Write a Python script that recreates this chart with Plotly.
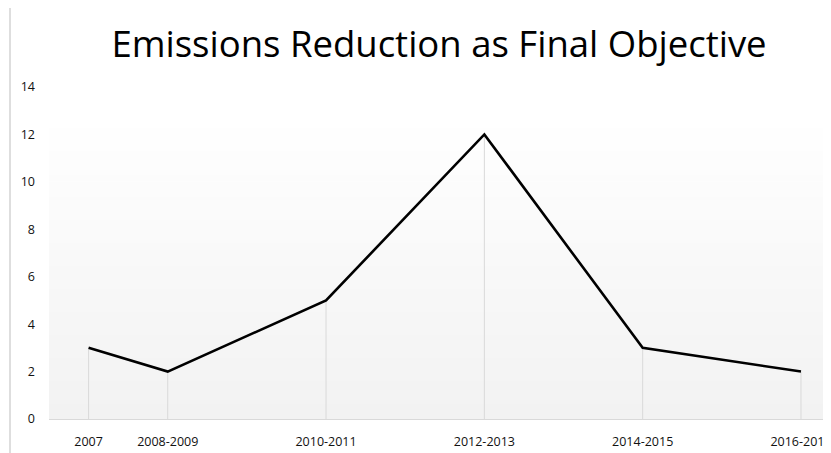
import plotly.graph_objects as go

# Data
period_labels = ["2007", "2008-2009", "2010-2011", "2012-2013", "2014-2015", "2016-2017"]
period_start = [2007, 2008, 2010, 2012, 2014, 2016]
counts = [3, 2, 5, 12, 3, 2]
y_ticks = [0, 2, 4, 6, 8, 10, 12, 14]

# page body adds an 8px offset, so the figure is sized/positioned accordingly
OFF = 8
W, H = 831 - OFF, 453 - OFF
ml, mr, mt, mb = 49 - OFF, 0, 87 - OFF, H - (419 - OFF)
plot_h = H - mt - mb
plot_w = W - ml - mr

fig = go.Figure()

# drop lines built from the data
dx, dy = [], []
for x, v in zip(period_start, counts):
    dx += [x, x, None]
    dy += [0, v, None]
fig.add_trace(go.Scatter(x=dx, y=dy, mode="lines",
                         line=dict(color="#d9d9d9", width=1),
                         hoverinfo="skip", showlegend=False))

fig.add_trace(go.Scatter(x=period_start, y=counts, mode="lines",
                         line=dict(color="#000000", width=2.6),
                         showlegend=False))

# background gradient (style only)
shapes = []
grad_top = (419 - 113) / plot_h
n = 40
for i in range(n):
    y0 = grad_top * i / n
    y1 = grad_top * (i + 1) / n
    t = i / (n - 1)
    c = int(round(242 + (255 - 242) * t))
    shapes.append(dict(type="rect", xref="paper", yref="paper",
                       x0=0, x1=1, y0=y0, y1=y1 + 0.002,
                       fillcolor=f"rgb({c},{c},{c})", line=dict(width=0),
                       layer="below"))
# left frame line
lx = (10 - OFF - ml) / plot_w
shapes.append(dict(type="line", xref="paper", yref="paper",
                   x0=lx, x1=lx,
                   y0=-mb / plot_h - 0.05, y1=(H - 5 + OFF - mb) / plot_h,
                   line=dict(color="#c8c8c8", width=1.2)))

fig.update_layout(
    width=W, height=H,
    margin=dict(l=ml, r=mr, t=mt, b=mb, autoexpand=False),
    paper_bgcolor="white", plot_bgcolor="rgba(0,0,0,0)",
    shapes=shapes,
    title=dict(text="Emissions Reduction as Final Objective",
               x=(439 - OFF) / W, xanchor="center",
               y=1 - (44 - OFF) / H, yanchor="middle",
               font=dict(family="Open Sans", size=36.5, color="#000000")),
    font=dict(family="Open Sans", size=12.5, color="#111111"),
    xaxis=dict(range=[2006.5, 2016 + 30 / 79.1],
               tickvals=period_start, ticktext=period_labels,
               showgrid=False, zeroline=False, showline=True,
               linecolor="#d9d9d9", linewidth=1, ticks="",
               ticklabeloverflow="allow",
               ticklabelstandoff=11, tickfont=dict(size=12.5)),
    yaxis=dict(range=[0, 14], tickvals=y_ticks, showgrid=False,
               zeroline=False, showline=False, ticks="",
               ticklabelstandoff=13, tickfont=dict(size=12.5)),
)

fig.write_html("out.html")
